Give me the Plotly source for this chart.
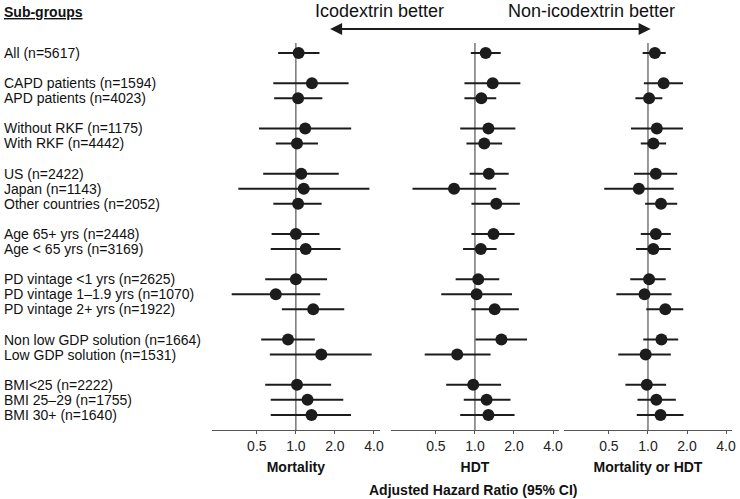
import plotly.graph_objects as go

# Sub-group labels and row slots (blank slots separate the groups)
labels = [
    "All (n=5617)",
    "CAPD patients (n=1594)", "APD patients (n=4023)",
    "Without RKF (n=1175)", "With RKF (n=4442)",
    "US (n=2422)", "Japan (n=1143)", "Other countries (n=2052)",
    "Age 65+ yrs (n=2448)", "Age &lt; 65 yrs (n=3169)",
    "PD vintage &lt;1 yrs (n=2625)", "PD vintage 1–1.9 yrs (n=1070)", "PD vintage 2+ yrs (n=1922)",
    "Non low GDP solution (n=1664)", "Low GDP solution (n=1531)",
    "BMI&lt;25 (n=2222)", "BMI 25–29 (n=1755)", "BMI 30+ (n=1640)",
]
rows = [0, 2, 3, 5, 6, 8, 9, 10, 12, 13, 15, 16, 17, 19, 20, 22, 23, 24]

panel_titles = ["Mortality", "HDT", "Mortality or HDT"]

mort_hr = [1.05, 1.33, 1.04, 1.18, 1.02, 1.10, 1.15, 1.04, 1.00, 1.19, 1.00, 0.70, 1.36, 0.87, 1.57, 1.02, 1.23, 1.32]
mort_lo = [0.73, 0.67, 0.68, 0.52, 0.70, 0.56, 0.36, 0.67, 0.65, 0.64, 0.58, 0.32, 0.78, 0.54, 0.63, 0.58, 0.64, 0.64]
mort_hi = [1.52, 2.55, 1.60, 2.67, 1.48, 2.14, 3.69, 1.58, 1.52, 2.21, 1.74, 1.54, 2.36, 1.40, 3.84, 1.87, 2.32, 2.66]

hdt_hr = [1.21, 1.37, 1.12, 1.27, 1.18, 1.28, 0.69, 1.46, 1.39, 1.11, 1.06, 1.03, 1.42, 1.60, 0.73, 0.97, 1.23, 1.27]
hdt_lo = [0.93, 0.83, 0.83, 0.77, 0.86, 0.91, 0.33, 0.94, 0.94, 0.81, 0.71, 0.55, 0.94, 1.01, 0.41, 0.60, 0.82, 0.77]
hdt_hi = [1.58, 2.24, 1.46, 2.05, 1.62, 1.82, 1.46, 2.22, 2.02, 1.47, 1.54, 1.93, 2.18, 2.52, 1.32, 1.59, 1.88, 2.02]

both_hr = [1.13, 1.32, 1.02, 1.17, 1.10, 1.15, 0.85, 1.26, 1.15, 1.10, 1.02, 0.94, 1.36, 1.27, 0.96, 0.98, 1.16, 1.25]
both_lo = [0.91, 0.93, 0.80, 0.74, 0.88, 0.78, 0.46, 0.95, 0.88, 0.81, 0.73, 0.57, 0.97, 0.92, 0.59, 0.67, 0.83, 0.82]
both_hi = [1.37, 1.86, 1.29, 1.86, 1.38, 1.68, 1.58, 1.68, 1.50, 1.50, 1.37, 1.52, 1.87, 1.71, 1.50, 1.38, 1.64, 1.88]

tick_vals = [0.5, 1, 2, 4]
tick_text = ["0.5", "1.0", "2.0", "4.0"]

panels = [(mort_hr, mort_lo, mort_hi), (hdt_hr, hdt_lo, hdt_hi), (both_hr, both_lo, both_hi)]
domains = [[0.2878, 0.5162], [0.5311, 0.7595], [0.7662, 0.9946]]

FONT = "Liberation Sans, Arial, sans-serif"
INK = "#1c1c1c"
AXIS = "#555555"

fig = go.Figure()

for i, (hr, lo, hi) in enumerate(panels):
    xa = "x" if i == 0 else f"x{i + 1}"
    fig.add_trace(
        go.Scatter(
            x=hr,
            y=rows,
            xaxis=xa,
            yaxis="y",
            mode="markers",
            marker={"size": 12, "color": INK},
            error_x={
                "type": "data",
                "symmetric": False,
                "array": [h - r for h, r in zip(hi, hr)],
                "arrayminus": [r - l for r, l in zip(hr, lo)],
                "color": INK,
                "thickness": 2,
                "width": 0,
            },
            showlegend=False,
            hoverinfo="skip",
        )
    )
    # reference line at HR = 1
    fig.add_shape(
        type="line", xref=xa, yref="y domain",
        x0=1, x1=1, y0=0, y1=0.9,
        line={"color": AXIS, "width": 1.2},
        layer="below",
    )

axis_common = dict(
    type="log",
    range=[-0.648, 0.648],
    tickvals=tick_vals,
    ticktext=tick_text,
    ticks="outside",
    ticklen=3,
    tickcolor=AXIS,
    showline=True,
    linecolor=AXIS,
    linewidth=1,
    showgrid=False,
    zeroline=False,
    tickfont={"family": FONT, "size": 14, "color": "#222222"},
    anchor="y",
    fixedrange=True,
)

layout_axes = {}
for i, title in enumerate(panel_titles):
    key = "xaxis" if i == 0 else f"xaxis{i + 1}"
    layout_axes[key] = dict(
        axis_common,
        domain=domains[i],
        title={"text": f"<b>{title}</b>", "font": {"family": FONT, "size": 14, "color": "#111111"}, "standoff": 9},
    )

# sub-group labels
for lab, r in zip(labels, rows):
    fig.add_annotation(
        text=lab, xref="paper", yref="y", x=0.003, y=r,
        xanchor="left", yanchor="middle", showarrow=False,
        font={"family": FONT, "size": 14, "color": "#111111"},
    )

fig.add_annotation(
    text="<b><u>Sub-groups</u></b>", xref="paper", yref="paper", x=0.003, y=0.976,
    xanchor="left", yanchor="middle", showarrow=False,
    font={"family": FONT, "size": 14, "color": "#111111"},
)
fig.add_annotation(
    text="Icodextrin better", xref="paper", yref="paper", x=0.516, y=0.978,
    xanchor="center", yanchor="middle", showarrow=False,
    font={"family": FONT, "size": 18, "color": "#111111"},
)
fig.add_annotation(
    text="Non-icodextrin better", xref="paper", yref="paper", x=0.803, y=0.978,
    xanchor="center", yanchor="middle", showarrow=False,
    font={"family": FONT, "size": 18, "color": "#111111"},
)
# double-headed arrow
fig.add_annotation(
    text="", xref="paper", yref="paper", x=0.884, y=0.9419,
    ax=-322, ay=0, showarrow=True, arrowside="end+start",
    arrowhead=2, arrowsize=1.2, arrowwidth=2, arrowcolor=INK,
)
fig.add_annotation(
    text="<b>Adjusted Hazard Ratio (95% CI)</b>", xref="paper", yref="paper",
    x=0.642, y=0.018, xanchor="center", yanchor="middle", showarrow=False,
    font={"family": FONT, "size": 14, "color": "#111111"},
)

fig.update_layout(
    width=740,
    height=499,
    margin={"l": 0, "r": 0, "t": 0, "b": 0},
    plot_bgcolor="white",
    paper_bgcolor="white",
    yaxis={
        "domain": [0.1383, 1.0],
        "range": [25, -3.515],
        "visible": False,
        "fixedrange": True,
    },
    **layout_axes,
)

# drop the browser's default page margin so the figure sits at the window's corner
fig.write_html(
    "out.html",
    config={"displayModeBar": False},
    post_script="document.body.style.margin='0px';",
)
